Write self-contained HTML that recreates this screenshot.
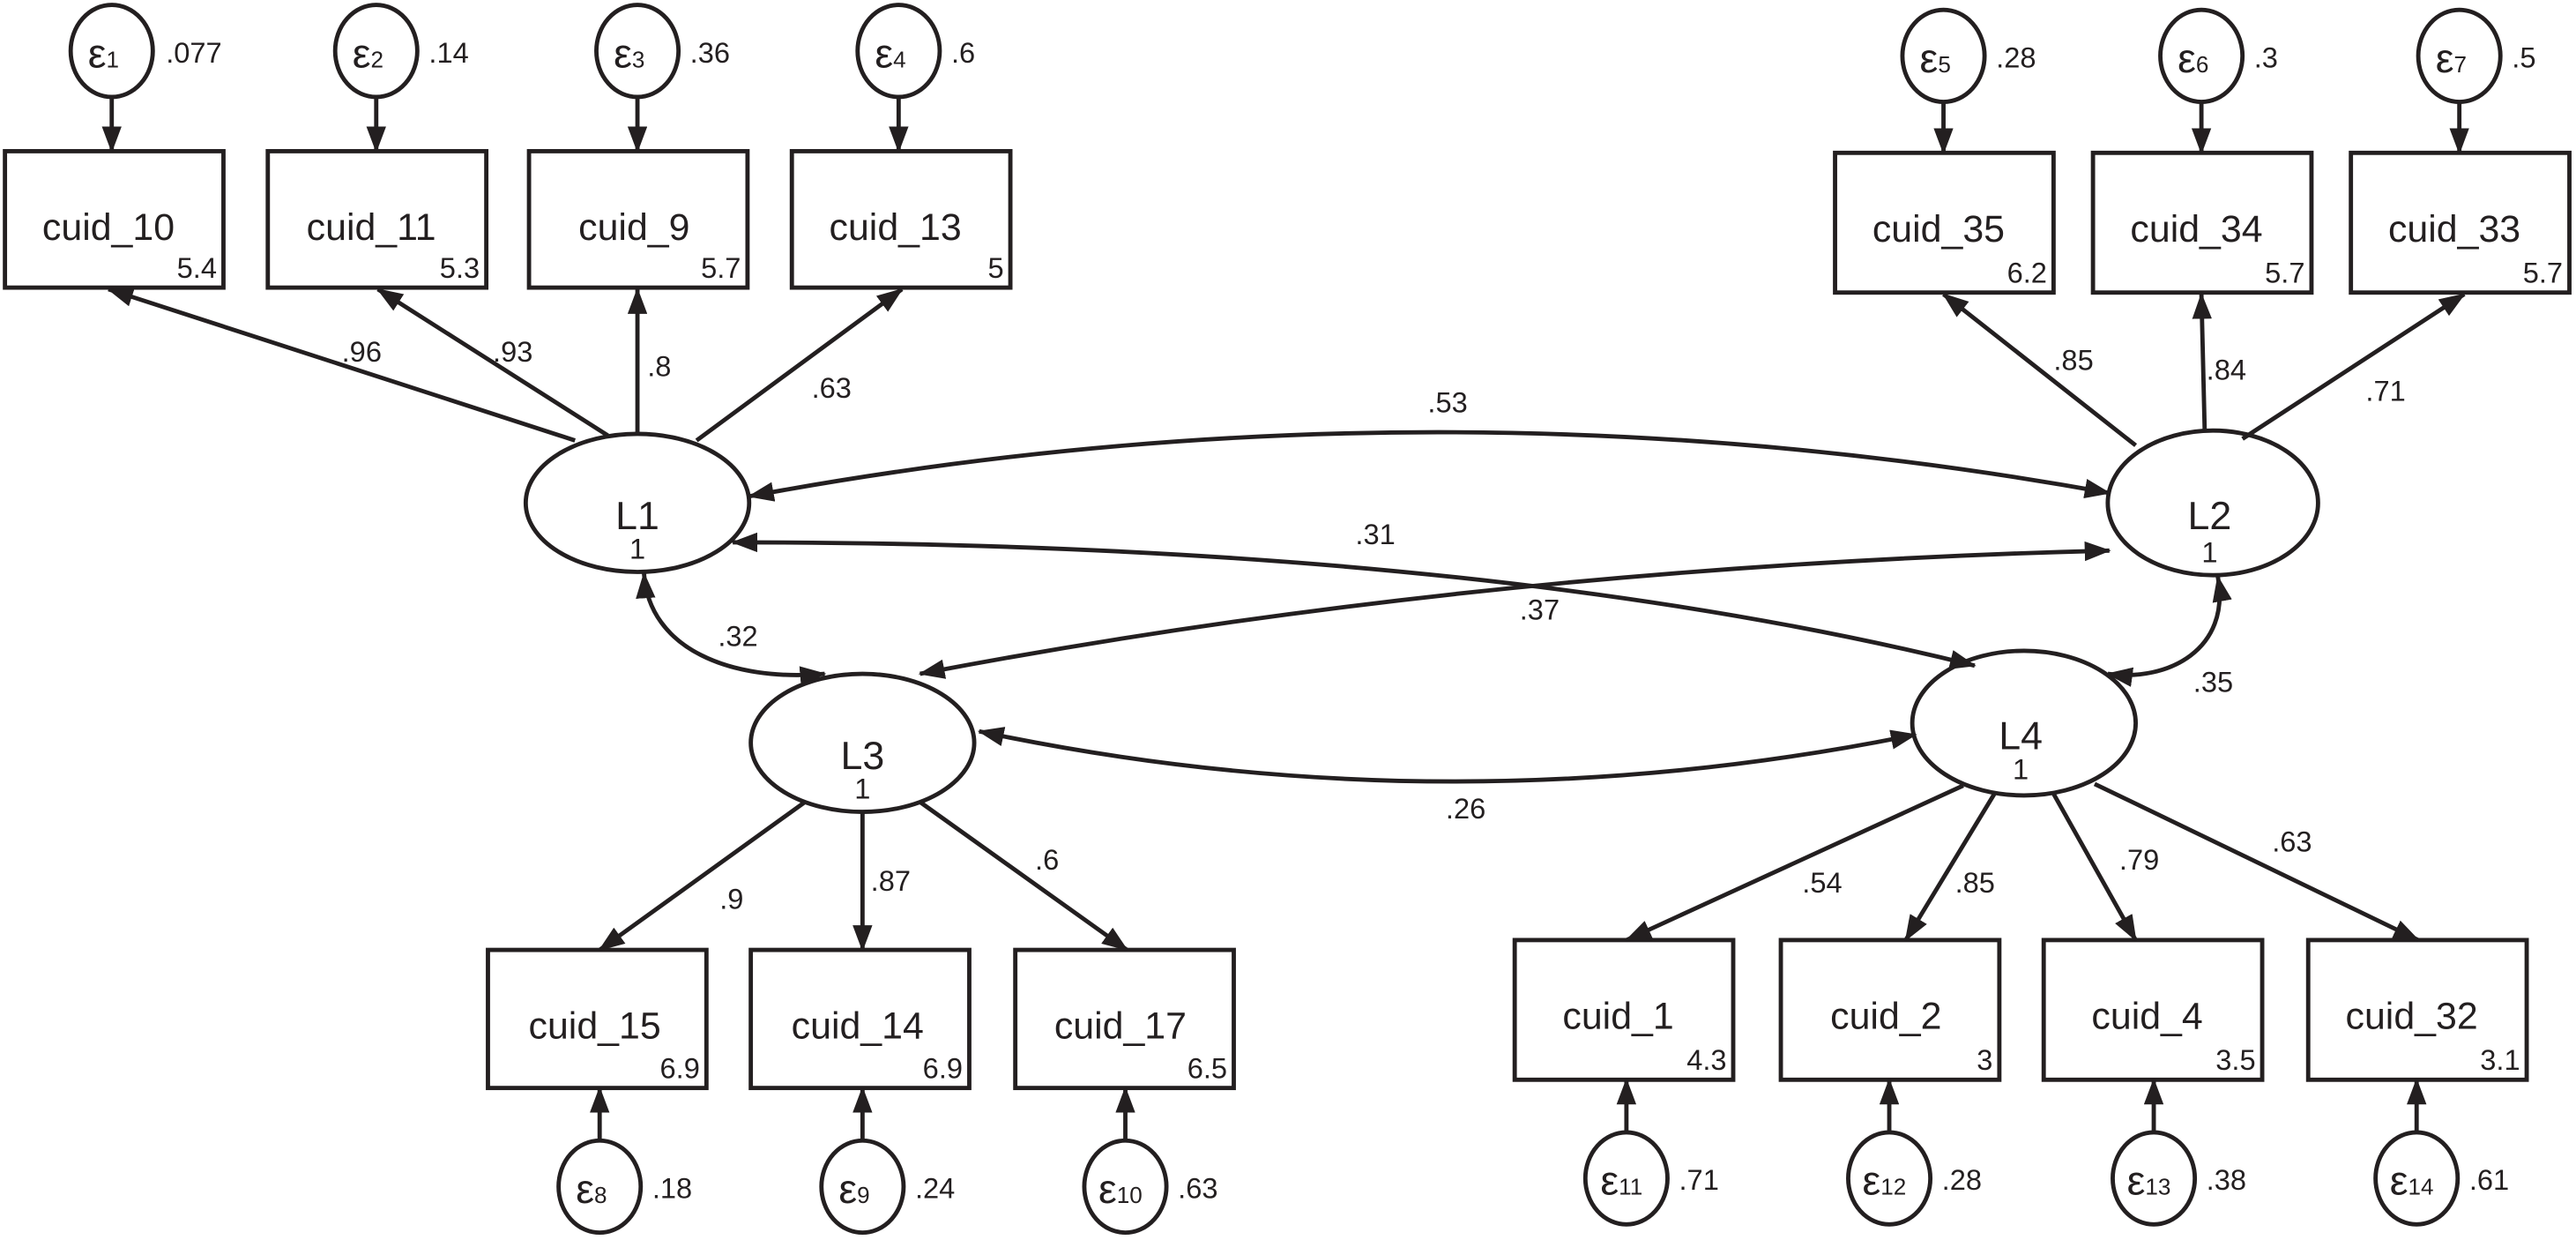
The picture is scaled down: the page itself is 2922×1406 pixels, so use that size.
<!DOCTYPE html>
<html><head><meta charset="utf-8"><style>
html,body{margin:0;padding:0;background:#fff;}
svg{display:block;}
text{font-family:"Liberation Sans",sans-serif;fill:#231f20;}
</style></head><body>
<svg width="2922" height="1406" viewBox="0 0 1568 754.5" xmlns="http://www.w3.org/2000/svg">
<defs>
<marker id="a" viewBox="0 0 16 12" refX="15" refY="6" markerWidth="16" markerHeight="12" markerUnits="userSpaceOnUse" orient="auto-start-reverse">
<path d="M0,0 L16,6 L0,12 Z" fill="#231f20"/>
</marker>
</defs>
<g stroke="#231f20" stroke-width="2.6" fill="none">
<rect x="3" y="92" width="133" height="83"/>
<rect x="163" y="92" width="133" height="83"/>
<rect x="322" y="92" width="133" height="83"/>
<rect x="482" y="92" width="133" height="83"/>
<rect x="1117" y="93" width="133" height="85"/>
<rect x="1274" y="93" width="133" height="85"/>
<rect x="1431" y="93" width="133" height="85"/>
<rect x="297" y="578" width="133" height="84"/>
<rect x="457" y="578" width="133" height="84"/>
<rect x="618" y="578" width="133" height="84"/>
<rect x="922" y="572" width="133" height="85"/>
<rect x="1084" y="572" width="133" height="85"/>
<rect x="1244" y="572" width="133" height="85"/>
<rect x="1405" y="572" width="133" height="85"/>
<ellipse cx="68" cy="31" rx="25" ry="28"/>
<ellipse cx="229" cy="31" rx="25" ry="28"/>
<ellipse cx="388" cy="31" rx="25" ry="28"/>
<ellipse cx="547" cy="31" rx="25" ry="28"/>
<ellipse cx="1183" cy="34" rx="25" ry="28"/>
<ellipse cx="1340" cy="34" rx="25" ry="28"/>
<ellipse cx="1497" cy="34" rx="25" ry="28"/>
<ellipse cx="365" cy="722" rx="25" ry="28"/>
<ellipse cx="525" cy="722" rx="25" ry="28"/>
<ellipse cx="685" cy="722" rx="25" ry="28"/>
<ellipse cx="990" cy="717" rx="25" ry="28"/>
<ellipse cx="1150" cy="717" rx="25" ry="28"/>
<ellipse cx="1311" cy="717" rx="25" ry="28"/>
<ellipse cx="1471" cy="717" rx="25" ry="28"/>
<ellipse cx="388" cy="306" rx="68" ry="42"/>
<ellipse cx="1347" cy="306" rx="64" ry="44"/>
<ellipse cx="525" cy="452" rx="68" ry="42"/>
<ellipse cx="1232" cy="440" rx="68" ry="44"/>
<g marker-end="url(#a)">
<line x1="68" y1="59" x2="68" y2="92"/>
<line x1="229" y1="59" x2="229" y2="92"/>
<line x1="388" y1="59" x2="388" y2="92"/>
<line x1="547" y1="59" x2="547" y2="92"/>
<line x1="1183" y1="62" x2="1183" y2="93"/>
<line x1="1340" y1="62" x2="1340" y2="93"/>
<line x1="1497" y1="62" x2="1497" y2="93"/>
<line x1="365" y1="694" x2="365" y2="662"/>
<line x1="525" y1="694" x2="525" y2="662"/>
<line x1="685" y1="694" x2="685" y2="662"/>
<line x1="990" y1="689" x2="990" y2="657"/>
<line x1="1150" y1="689" x2="1150" y2="657"/>
<line x1="1311" y1="689" x2="1311" y2="657"/>
<line x1="1471" y1="689" x2="1471" y2="657"/>
<line x1="350" y1="268" x2="66" y2="176"/>
<line x1="370" y1="265" x2="230" y2="176"/>
<line x1="388" y1="264" x2="388" y2="176"/>
<line x1="424" y1="268" x2="549" y2="176"/>
<line x1="1300" y1="271" x2="1183" y2="179"/>
<line x1="1342" y1="262" x2="1340" y2="179"/>
<line x1="1365" y1="267" x2="1500" y2="179"/>
<line x1="490" y1="488" x2="365" y2="578"/>
<line x1="525" y1="494" x2="525" y2="578"/>
<line x1="560" y1="488" x2="686" y2="578"/>
<line x1="1195" y1="478" x2="990" y2="572"/>
<line x1="1214" y1="483" x2="1160" y2="572"/>
<line x1="1250" y1="483" x2="1300" y2="572"/>
<line x1="1275" y1="477" x2="1472" y2="572"/>
</g>
<g marker-start="url(#a)" marker-end="url(#a)">
<path d="M456,302 Q870,225 1284,300"/>
<path d="M446,330 Q900,330 1202,405"/>
<path d="M1284,335 Q900,345 560,410"/>
<path d="M596,445 Q880,505 1166,447"/>
<path d="M392,349 C395,395 445,415 502,410"/>
<path d="M1350,351 C1358,395 1320,415 1283,410"/>
</g>
</g>
<g font-size="23" text-anchor="middle">
<text x="66" y="146">cuid_10</text>
<text x="226" y="146">cuid_11</text>
<text x="386" y="146">cuid_9</text>
<text x="545" y="146">cuid_13</text>
<text x="1180" y="147">cuid_35</text>
<text x="1337" y="147">cuid_34</text>
<text x="1494" y="147">cuid_33</text>
<text x="362" y="632">cuid_15</text>
<text x="522" y="632">cuid_14</text>
<text x="682" y="632">cuid_17</text>
<text x="985" y="626">cuid_1</text>
<text x="1148" y="626">cuid_2</text>
<text x="1307" y="626">cuid_4</text>
<text x="1468" y="626">cuid_32</text>
</g>
<g font-size="24" text-anchor="middle">
<text x="388" y="322">L1</text>
<text x="1345" y="322">L2</text>
<text x="525" y="468">L3</text>
<text x="1230" y="456">L4</text>
</g>
<g font-size="17.5" text-anchor="end">
<text x="132" y="169">5.4</text>
<text x="292" y="169">5.3</text>
<text x="451" y="169">5.7</text>
<text x="611" y="169">5</text>
<text x="1246" y="172">6.2</text>
<text x="1403" y="172">5.7</text>
<text x="1560" y="172">5.7</text>
<text x="426" y="656">6.9</text>
<text x="586" y="656">6.9</text>
<text x="747" y="656">6.5</text>
<text x="1051" y="651">4.3</text>
<text x="1213" y="651">3</text>
<text x="1373" y="651">3.5</text>
<text x="1534" y="651">3.1</text>
</g>
<g font-size="17.5" text-anchor="middle">
<text x="388" y="340">1</text>
<text x="1345" y="342">1</text>
<text x="525" y="486">1</text>
<text x="1230" y="474">1</text>
</g>
<g font-size="17.5">
<text x="101" y="38">.077</text>
<text x="261" y="38">.14</text>
<text x="420" y="38">.36</text>
<text x="579" y="38">.6</text>
<text x="1215" y="41">.28</text>
<text x="1372" y="41">.3</text>
<text x="1529" y="41">.5</text>
<text x="397" y="729">.18</text>
<text x="557" y="729">.24</text>
<text x="717" y="729">.63</text>
<text x="1022" y="724">.71</text>
<text x="1182" y="724">.28</text>
<text x="1343" y="724">.38</text>
<text x="1503" y="724">.61</text>
<text x="208" y="220">.96</text>
<text x="300" y="220">.93</text>
<text x="394" y="229">.8</text>
<text x="494" y="242">.63</text>
<text x="1250" y="225">.85</text>
<text x="1343" y="231">.84</text>
<text x="1440" y="244">.71</text>
<text x="438" y="553">.9</text>
<text x="530" y="542">.87</text>
<text x="630" y="529">.6</text>
<text x="1097" y="543">.54</text>
<text x="1190" y="543">.85</text>
<text x="1290" y="529">.79</text>
<text x="1383" y="518">.63</text>
<text x="869" y="251">.53</text>
<text x="825" y="331">.31</text>
<text x="925" y="377">.37</text>
<text x="880" y="498">.26</text>
<text x="437" y="393">.32</text>
<text x="1335" y="421">.35</text>
</g>
<g font-size="25" text-anchor="middle">
<text x="63" y="41">ε<tspan font-size="14">1</tspan></text>
<text x="224" y="41">ε<tspan font-size="14">2</tspan></text>
<text x="383" y="41">ε<tspan font-size="14">3</tspan></text>
<text x="542" y="41">ε<tspan font-size="14">4</tspan></text>
<text x="1178" y="44">ε<tspan font-size="14">5</tspan></text>
<text x="1335" y="44">ε<tspan font-size="14">6</tspan></text>
<text x="1492" y="44">ε<tspan font-size="14">7</tspan></text>
<text x="360" y="732">ε<tspan font-size="14">8</tspan></text>
<text x="520" y="732">ε<tspan font-size="14">9</tspan></text>
<text x="682" y="732">ε<tspan font-size="14">10</tspan></text>
<text x="987" y="727">ε<tspan font-size="14">11</tspan></text>
<text x="1147" y="727">ε<tspan font-size="14">12</tspan></text>
<text x="1308" y="727">ε<tspan font-size="14">13</tspan></text>
<text x="1468" y="727">ε<tspan font-size="14">14</tspan></text>
</g>
</svg>
</body></html>
